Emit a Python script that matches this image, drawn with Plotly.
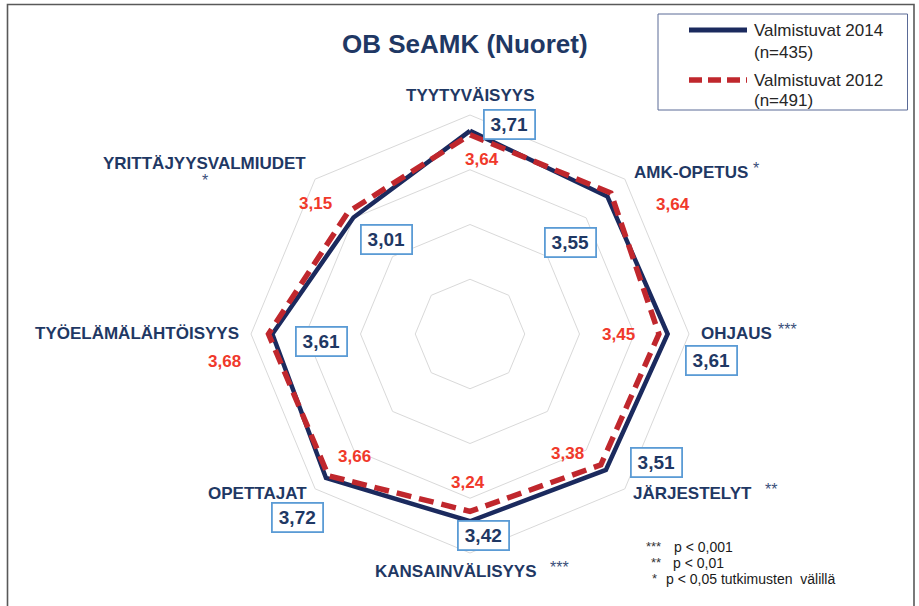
import plotly.graph_objects as go

W, H = 919, 606

# ---------------- data ----------------
categories = ["TYYTYVÄISYYS", "AMK-OPETUS", "OHJAUS", "JÄRJESTELYT",
              "KANSAINVÄLISYYS", "OPETTAJAT", "TYÖELÄMÄLÄHTÖISYYS", "YRITTÄJYYSVALMIUDET"]
significance = ["", "*", "***", "**", "***", "", "", "*"]
values_2014 = [3.71, 3.55, 3.61, 3.51, 3.42, 3.72, 3.61, 3.01]
values_2012 = [3.64, 3.64, 3.45, 3.38, 3.24, 3.66, 3.68, 3.15]
series_names = ["Valmistuvat 2014", "Valmistuvat 2012"]
series_n = ["(n=435)", "(n=491)"]
radial_ticks = [1, 2, 3, 4]
footnotes = [("***", "p < 0,001"), ("**", "p < 0,01"), ("*", "p < 0,05 tutkimusten  välillä")]
title_text = "OB SeAMK (Nuoret)"

# ---------------- styles / layout positions (pixels) ----------------
NAVY = "#1b2a5e"
RED = "#c0272d"
TXT = "#1f3864"
LBL_RED = "#f0392b"
BOX = "#5b9bd5"
FONT = "Liberation Sans"

# value box centres (2014) and red label centres (2012), per category
box_pos = [(510, 124), (570, 242), (711.5, 360), (656.5, 462),
           (483.5, 535), (297.5, 517), (321.5, 342), (386, 239)]
red_pos = [(481.7, 160), (673, 204), (618.7, 334), (567.4, 453),
           (467.8, 482), (354.3, 456), (224, 361.7), (315, 203.3)]
# category label anchors: (x, y, xanchor)
cat_pos = [(470.5, 95, "center"), (631.7, 172, "left"), (699, 333, "left"),
           (631, 493, "left"), (373, 571, "left"), (309, 493, "right"),
           (240.7, 333, "right"), (204.7, 163, "center")]
# significance marker positions (x left, y)
sig_pos = [None, (751, 168), (776, 329), (763, 489), (548, 567), None, None, (205, 180)]


def px(x, y):
    return x / W, 1 - y / H


def fmt(v):
    return f"{v:.2f}".replace(".", ",")


theta = categories + [categories[0]]

fig = go.Figure()
fig.add_trace(go.Scatterpolar(
    r=values_2014 + [values_2014[0]], theta=theta, mode="lines",
    line=dict(color=NAVY, width=4.5), name=series_names[0], showlegend=False))
fig.add_trace(go.Scatterpolar(
    r=values_2012 + [values_2012[0]], theta=theta, mode="lines",
    line=dict(color=RED, width=5.5, dash="15px,8px"), name=series_names[1], showlegend=False))

cx, cy, R = 470, 334, 219
fig.update_layout(
    width=W, height=H,
    margin=dict(l=0, r=0, t=0, b=0),
    paper_bgcolor="white", plot_bgcolor="white",
    font=dict(family=FONT, color=TXT),
    polar=dict(
        domain=dict(x=[(cx - R) / W, (cx + R) / W], y=[1 - (cy + R) / H, 1 - (cy - R) / H]),
        bgcolor="white",
        gridshape="linear",
        radialaxis=dict(range=[0, 4], tickvals=radial_ticks, showticklabels=False,
                        showline=False, ticks="", gridcolor="#d9d9d9", gridwidth=1),
        angularaxis=dict(rotation=90, direction="clockwise", showticklabels=False,
                         ticks="", showgrid=False, showline=True,
                         linecolor="#d9d9d9", linewidth=1),
    ),
)

ann = []
shapes = []

# title
x, y = px(465, 44)
ann.append(dict(x=x, y=y, xref="paper", yref="paper", text=f"<b>{title_text}</b>",
                showarrow=False, font=dict(size=26, color=TXT, family=FONT),
                xanchor="center", yanchor="middle"))

for i, cat in enumerate(categories):
    # category label
    lx, ly, anc = cat_pos[i]
    x, y = px(lx, ly)
    ann.append(dict(x=x, y=y, xref="paper", yref="paper", text=f"<b>{cat}</b>",
                    showarrow=False, font=dict(size=17, color=TXT, family=FONT),
                    xanchor=anc, yanchor="middle"))
    if significance[i]:
        sx, sy = sig_pos[i]
        x, y = px(sx, sy)
        ann.append(dict(x=x, y=y, xref="paper", yref="paper", text=significance[i],
                        showarrow=False, font=dict(size=16, color="#3a4f7a", family=FONT),
                        xanchor="center" if i == 7 else "left", yanchor="middle"))
    # 2014 value box
    bx, by = box_pos[i]
    x, y = px(bx, by)
    ann.append(dict(x=x, y=y, xref="paper", yref="paper", text=f"<b>{fmt(values_2014[i])}</b>",
                    showarrow=False, font=dict(size=19, color=TXT, family=FONT),
                    xanchor="center", yanchor="middle", width=46, height=24,
                    bordercolor=BOX, borderwidth=1.8, borderpad=1.5, bgcolor="white"))
    # 2012 value label
    rx, ry = red_pos[i]
    x, y = px(rx, ry)
    ann.append(dict(x=x, y=y, xref="paper", yref="paper", text=f"<b>{fmt(values_2012[i])}</b>",
                    showarrow=False, font=dict(size=17, color=LBL_RED, family=FONT),
                    xanchor="center", yanchor="middle"))

# legend box
x0, y0 = px(658, 14)
x1, y1 = px(907.5, 110)
shapes.append(dict(type="rect", xref="paper", yref="paper", x0=x0, y0=y1, x1=x1, y1=y0,
                   line=dict(color="#5a6a96", width=1), fillcolor="white", layer="below"))
leg_y = [(30, 52), (80, 100)]
leg_style = [dict(color=NAVY, width=5), dict(color=RED, width=5.5, dash="13px,6px")]
for k in range(2):
    ya, yb = leg_y[k]
    a0, b0 = px(689, ya)
    a1, _ = px(747, ya)
    shapes.append(dict(type="line", xref="paper", yref="paper", x0=a0, y0=b0, x1=a1, y1=b0,
                       line=leg_style[k]))
    x, y = px(752, ya)
    ann.append(dict(x=x, y=y, xref="paper", yref="paper", text=series_names[k],
                    showarrow=False, font=dict(size=17, color="#262626", family=FONT),
                    xanchor="left", yanchor="middle"))
    x, y = px(752, yb)
    ann.append(dict(x=x, y=y, xref="paper", yref="paper", text=series_n[k],
                    showarrow=False, font=dict(size=17, color="#262626", family=FONT),
                    xanchor="left", yanchor="middle"))

# footnotes
foot_y = [547, 563, 579]
foot_star_right = [663, 663, 659]
foot_text_left = [671.5, 670.5, 664]
for k, (stars, txt) in enumerate(footnotes):
    x, y = px(foot_star_right[k], foot_y[k] - 1)
    ann.append(dict(x=x, y=y, xref="paper", yref="paper", text=stars, showarrow=False,
                    font=dict(size=13, color="#333333", family=FONT),
                    xanchor="right", yanchor="middle"))
    x, y = px(foot_text_left[k], foot_y[k])
    ann.append(dict(x=x, y=y, xref="paper", yref="paper", text=txt, showarrow=False,
                    font=dict(size=14, color="#1a1a1a", family=FONT),
                    xanchor="left", yanchor="middle"))

# outer frame (left, top, right)
fx0, fy0 = px(7.5, 4.5)
fx1, fy1 = px(914, 606)
shapes.append(dict(type="path", xref="paper", yref="paper",
                   path=f"M {fx0} {fy1} L {fx0} {fy0} L {fx1} {fy0} L {fx1} {fy1}",
                   line=dict(color="#595959", width=1.6)))

fig.update_layout(annotations=ann, shapes=shapes)
fig.write_html("out.html", config={"displayModeBar": False},
               post_script="document.body.style.margin='0';document.body.style.overflow='hidden';")
